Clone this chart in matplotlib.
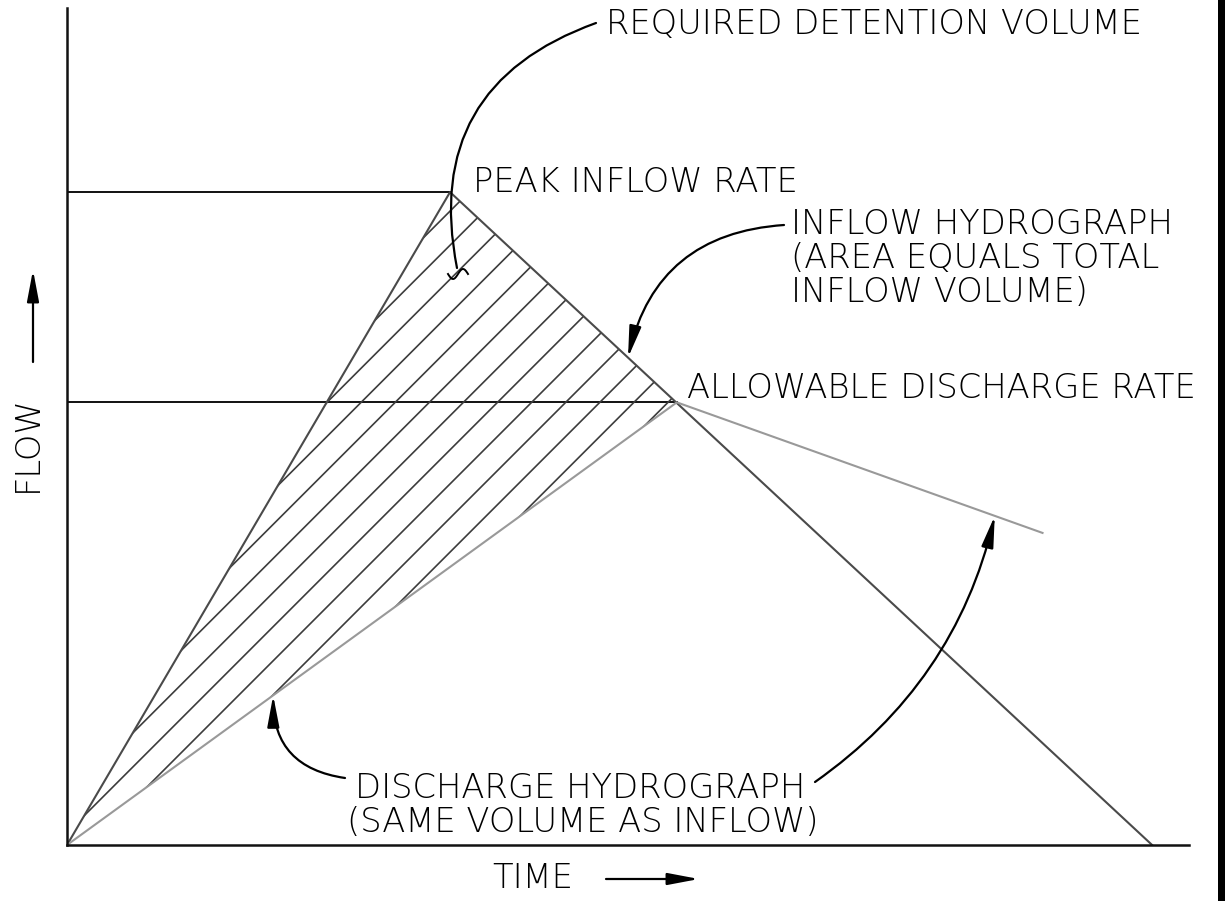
import matplotlib
matplotlib.use("Agg")
import matplotlib.pyplot as plt
import numpy as np
from matplotlib.patches import Polygon, Rectangle

# hydrograph data (time units, flow units)
inflow_time = [0.0, 3.53, 10.0]
inflow_flow = [0.0, 100.0, 0.0]
discharge_time = [0.0, 5.62, 8.99]
discharge_flow = [0.0, 67.8, 47.8]

peak_flow = inflow_flow[1]
allowable_flow = discharge_flow[1]

W, H = 1225, 901
fig = plt.figure(figsize=(W / 100, H / 100), dpi=100)
ax = fig.add_axes([67 / W, 56 / H, 1122 / W, 837 / H])
ax.set_xlim(0, 10.34)
ax.set_ylim(0, 128.2)
for s in ["top", "right"]:
    ax.spines[s].set_visible(False)
for s in ["left", "bottom"]:
    ax.spines[s].set_linewidth(1.8)
    ax.spines[s].set_color("#111111")
ax.set_xticks([])
ax.set_yticks([])

fs = 24.3
tkw = dict(fontsize=fs, color="black", family="DejaVu Sans", fontweight="light")


def fig_xy(x, y):
    # image pixel -> figure fraction
    return (x / W, 1 - y / H)


# peak and allowable lines
ax.plot([0, inflow_time[1]], [peak_flow, peak_flow], color="#111111", lw=1.4)
ax.plot([0, discharge_time[1]], [allowable_flow, allowable_flow], color="#111111", lw=1.4)

# hatched detention volume (45 degree lines clipped to the area)
poly = [(inflow_time[0], inflow_flow[0]), (inflow_time[1], inflow_flow[1]),
        (discharge_time[1], discharge_flow[1])]
clip = Polygon(poly, closed=True, transform=ax.transData, facecolor="none", edgecolor="none")
ax.add_patch(clip)
fig.canvas.draw()
pd = ax.transData.transform(poly)
b_vals = pd[:, 1] - pd[:, 0]
b_peak = pd[1, 1] - pd[1, 0]
spacing = 34.1
b = b_peak - 19
inv = ax.transData.inverted()
xs = np.array([pd[:, 0].min() - 50, pd[:, 0].max() + 50])
while b > b_vals.min() - spacing:
    seg = inv.transform(np.column_stack([xs, xs + b]))
    ln, = ax.plot(seg[:, 0], seg[:, 1], color="#3c3c3c", lw=1.2)
    ln.set_clip_path(clip)
    b -= spacing

# hydrographs
ax.plot(inflow_time, inflow_flow, color="#4a4a4a", lw=1.5)
ax.plot(discharge_time, discharge_flow, color="#999999", lw=1.5)

# labels
ax.text(*fig_xy(606, 24), "REQUIRED DETENTION VOLUME", transform=fig.transFigure, va="center", **tkw)
ax.text(*fig_xy(473, 183), "PEAK INFLOW RATE", transform=fig.transFigure, va="center", **tkw)
for i, line in enumerate(["INFLOW HYDROGRAPH", "(AREA EQUALS TOTAL", "INFLOW VOLUME)"]):
    ax.text(*fig_xy(791, 224 + 34.5 * i), line, transform=fig.transFigure, va="center", **tkw)
ax.text(*fig_xy(687, 388), "ALLOWABLE DISCHARGE RATE", transform=fig.transFigure, va="center", **tkw)
ax.text(*fig_xy(580, 788), "DISCHARGE HYDROGRAPH", transform=fig.transFigure, ha="center", va="center", **tkw)
ax.text(*fig_xy(583, 822), "(SAME VOLUME AS INFLOW)", transform=fig.transFigure, ha="center", va="center", **tkw)
ax.text(*fig_xy(27, 444), "FLOW", transform=fig.transFigure, rotation=90, ha="center", va="center", **tkw)
ax.text(*fig_xy(492, 878), "TIME", transform=fig.transFigure, va="center", **tkw)

head = "-|>,head_length=0.95,head_width=0.18"
lkw = dict(color="black", lw=1.6, shrinkA=0, shrinkB=0, mutation_scale=20)

# axis arrows
ax.annotate("", xy=fig_xy(33, 270), xytext=fig_xy(33, 362), xycoords="figure fraction",
            textcoords="figure fraction", arrowprops=dict(arrowstyle=head, **lkw))
ax.annotate("", xy=fig_xy(699, 879), xytext=fig_xy(606, 879), xycoords="figure fraction",
            textcoords="figure fraction", arrowprops=dict(arrowstyle=head, **lkw))

# leaders pointing at the hydrographs
t_in = 5.17
ax.annotate("", xy=(t_in, np.interp(t_in, inflow_time[1:], inflow_flow[1:])),
            xytext=fig_xy(784, 225), textcoords="figure fraction",
            arrowprops=dict(arrowstyle=head, connectionstyle="arc3,rad=0.37", **lkw))
t_d1 = 1.90
ax.annotate("", xy=(t_d1, np.interp(t_d1, discharge_time[:2], discharge_flow[:2])),
            xytext=fig_xy(345, 778), textcoords="figure fraction",
            arrowprops=dict(arrowstyle=head, connectionstyle="arc3,rad=-0.43", **lkw))
t_d2 = 8.55
ax.annotate("", xy=(t_d2, np.interp(t_d2, discharge_time[1:], discharge_flow[1:])),
            xytext=fig_xy(815, 782), textcoords="figure fraction",
            arrowprops=dict(arrowstyle=head, connectionstyle="arc3,rad=0.19", **lkw))
ax.annotate("", xy=fig_xy(457, 268), xytext=fig_xy(596, 23), xycoords="figure fraction",
            textcoords="figure fraction",
            arrowprops=dict(arrowstyle="-", connectionstyle="arc3,rad=0.43", **lkw))

# small squiggle at end of detention leader
sx = np.linspace(-10, 10, 40)
sy = -5 * np.sin(2 * np.pi * sx / 20)
sq = np.column_stack([(458 + sx) / W, 1 - (274 + sy) / H])
ax.plot(sq[:, 0], sq[:, 1], color="black", lw=1.4, transform=fig.transFigure, clip_on=False)

# dark border strip on the right edge
fig.patches.append(Rectangle((1218 / W, 0), 7 / W, 1, transform=fig.transFigure,
                             facecolor="black", edgecolor="none"))

fig.savefig("out.png", dpi=100)
